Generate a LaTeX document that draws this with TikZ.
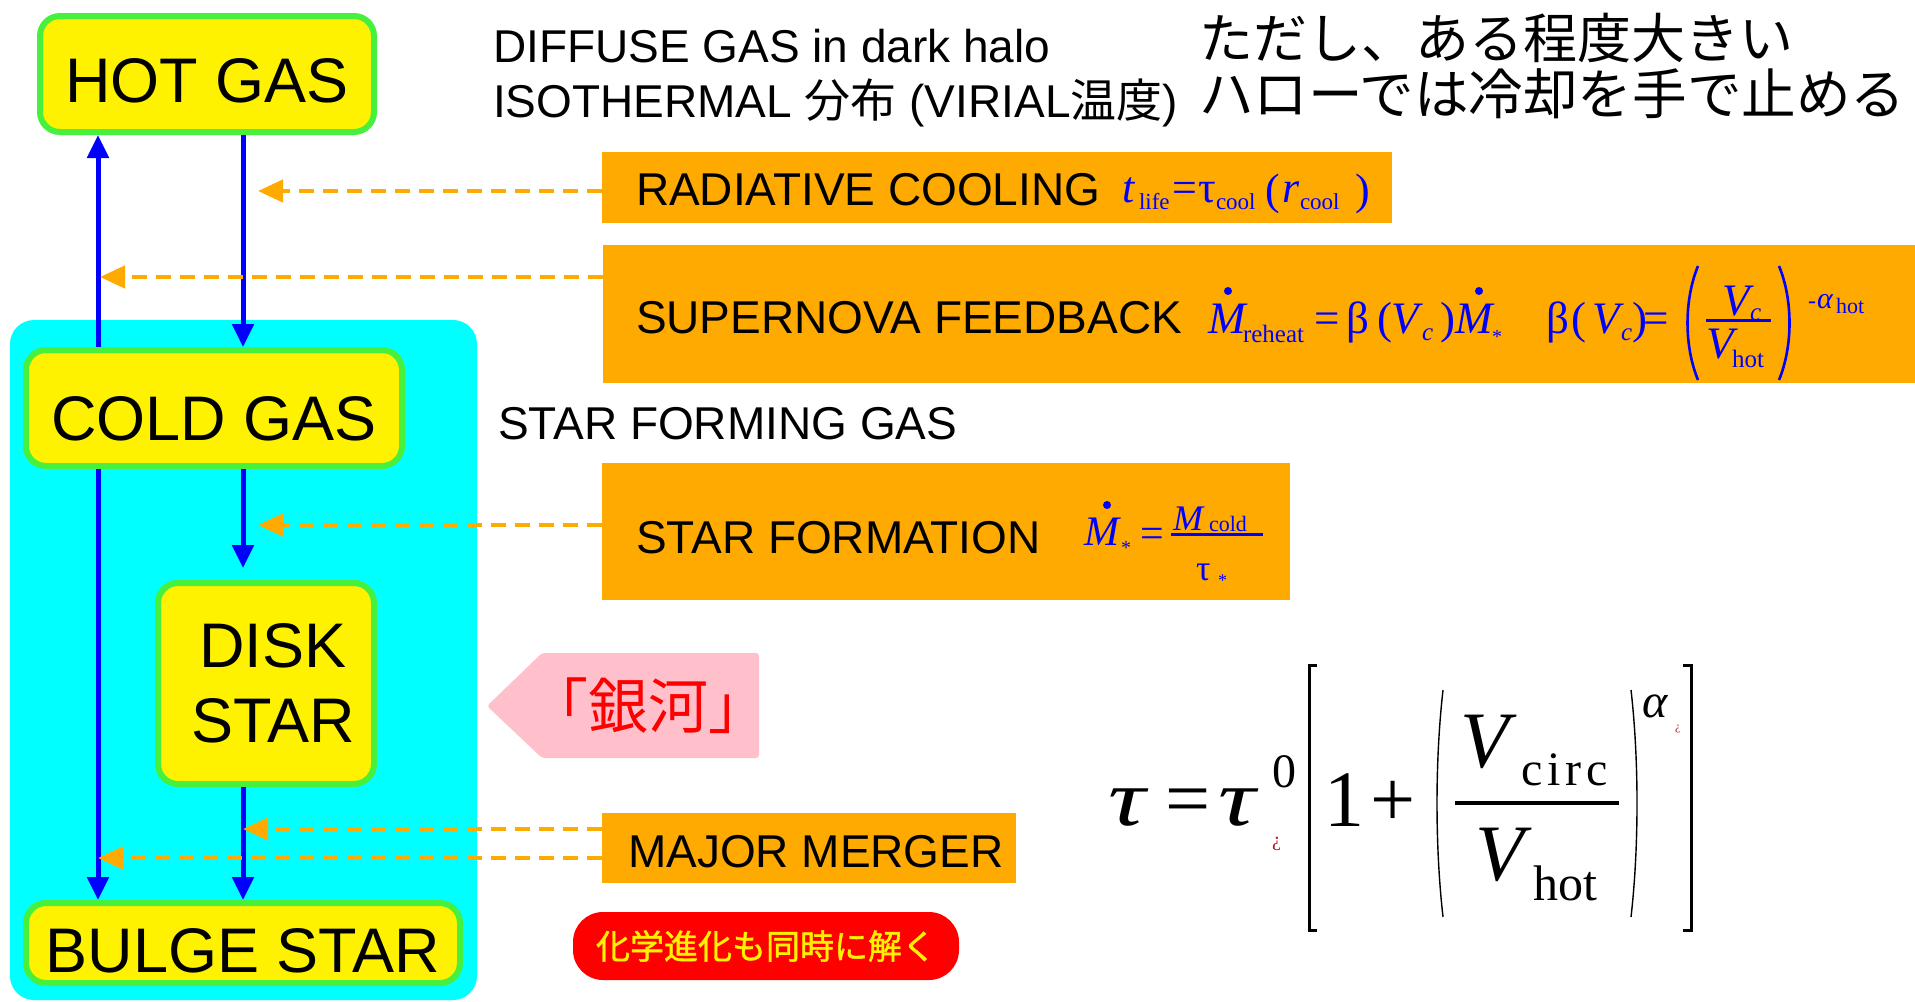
\documentclass[tikz,border=0pt]{standalone}
\usepackage{fontspec}
\usepackage{graphicx}
\setmainfont{Liberation Sans}
\newfontfamily\cjk{Noto Sans CJK JP}
\newfontfamily\cjkb[FakeBold=1.2]{Noto Sans CJK JP}
\newfontfamily\tms{Liberation Serif}
\usetikzlibrary{arrows.meta}
\definecolor{orng}{RGB}{255,170,0}
\definecolor{grn}{RGB}{70,240,60}
\definecolor{cyn}{RGB}{0,255,255}
\definecolor{pnk}{RGB}{255,192,203}
\definecolor{dred}{RGB}{170,30,30}
\newcommand\fsz[1]{\fontsize{#1}{#1}\selectfont}
\newcommand\tf[1]{\tms\fontsize{#1}{#1}\selectfont}
\begin{document}
\begin{tikzpicture}[x=0.5pt,y=-0.5pt,
  every node/.style={inner sep=0pt, outer sep=0pt},
  gbox/.style={draw=grn, line width=3pt, outer sep=1.5pt, fill=yellow, rounded corners=10pt, font=\fsz{31.5}, align=center},
  obox/.style={fill=orng},
  lbl/.style={anchor=base west, font=\fsz{23}},
  fm/.style={anchor=base west, text=blue},
  bk/.style={anchor=base west, text=black},
  barrow/.style={draw=blue, line width=2.5pt, -{Triangle[length=11.5pt,width=10.5pt]}},
  oarrow/.style={draw=orng, line width=2.2pt, dash pattern=on 7.5pt off 4.5pt, -{Triangle[length=12.5pt,width=11pt]}},
]
\fill[white] (0,0) rectangle (1915,1001);
\useasboundingbox (0,0) rectangle (1915,1001);

% galaxy background
\node[fill=cyn, rounded corners=12pt, minimum width=233.5pt, minimum height=340pt] (gal) at (243.5,660) {};

% boxes
\node[gbox, minimum width=167pt, minimum height=58pt, text height=28.1pt, text depth=0pt] (hot) at (207,74) {HOT GAS};
\node[gbox, minimum width=188pt, minimum height=58pt, text height=32.6pt, text depth=0pt] (cold) at (214,408) {COLD GAS};
\node[gbox, minimum width=108pt, minimum height=100.5pt, font=\fontsize{31.5}{37.5}\selectfont] (disk) at (266,683.5) {\hspace*{7pt}DISK\\\hspace*{7pt}STAR};
\node[gbox, minimum width=217pt, minimum height=40pt, text height=29.6pt, text depth=0pt] (bulge) at (243,943) {BULGE STAR};

% orange process boxes
\node[obox, minimum width=395pt, minimum height=35.5pt] (rad) at (997,187.5) {};
\node[obox, minimum width=661pt, minimum height=69pt] (sn) at (1264,314) {};
\node[obox, minimum width=344pt, minimum height=68.5pt] (sf) at (946,531.5) {};
\node[obox, minimum width=207pt, minimum height=35pt] (mm) at (809,848) {};

% lanes
\coordinate (L) at (98,0);
\coordinate (R) at (243,0);

% blue flows
\draw[barrow] (L |- cold.north) -- (L |- hot.south);
\draw[barrow] (R |- hot.south) -- (R |- cold.north);
\draw[barrow] (R |- cold.south) -- ([yshift=6pt]R |- disk.north);
\draw[barrow] (R |- disk.south) -- (R |- bulge.north);
\draw[barrow] (L |- cold.south) -- (L |- bulge.north);

% orange dashed influences
\coordinate (t1) at (258,191);
\coordinate (t2) at (100,277);
\coordinate (t3) at (258,525);
\coordinate (t4) at (243,829);
\coordinate (t5) at (98,858);
\draw[oarrow] (rad.west |- t1) -- (t1);
\draw[oarrow] (sn.west |- t2) -- (t2);
\draw[oarrow] (sf.west |- t3) -- (t3);
\draw[oarrow] (mm.west |- t4) -- (t4);
\draw[oarrow] (mm.west |- t5) -- (t5);

% labels
\node[lbl] (lrad) at (636,205) {RADIATIVE COOLING};
\node[lbl] (lsn) at (636,333) {SUPERNOVA FEEDBACK};
\node[lbl] (lsf) at (636,553) {STAR FORMATION};
\node[lbl] (lmm) at (628,867) {MAJOR MERGER};
\node[lbl] (lsfg) at (498,439) {STAR FORMING GAS};
\node[lbl] (ldif) at (493,62) {DIFFUSE GAS in dark halo};
\node[lbl] (liso) at (493,117) {ISOTHERMAL {\cjk 分布} (VIRIAL{\cjk 温度})};
\node[anchor=base west, font=\cjk\fsz{27}] (jp1) at (1199,58) {ただし、ある程度大きい};
\node[anchor=base west, font=\cjk\fsz{27.3}] (jp2) at (1199,114) {ハローでは冷却を手で止める};

% galaxy tag
\fill[pnk, rounded corners=1.5pt] (487,706) -- (542,653) -- (759,653) -- (759,758) -- (542,758) -- cycle;
\node[text=red, font=\cjk\fsz{30}] (gx) at (648,706) {「銀河」};

% chemical evolution
\node[fill=red, rounded corners=15pt, minimum width=193pt, minimum height=34pt, text=yellow, font=\cjkb\fsz{17}] (chem) at (766,946) {化学進化も同時に解く};

% radiative cooling formula
\node[fm, font=\tf{22}\itshape] (r1) at (1122,202) {t};
\node[fm, font=\tf{11.5}] (r2) at (1139,209) {life};
\node[fm, font=\tf{22}] (r3) at (1172,202) {=};
\node[fm, font=\tf{22}] (r4) at (1198,202) {τ};
\node[fm, font=\tf{11.5}] (r5) at (1216,209) {cool};
\node[fm, font=\tf{22}] (r6) at (1265,204) {(};
\node[fm, font=\tf{22}\itshape] (r7) at (1282,202) {r};
\node[fm, font=\tf{11.5}] (r8) at (1300,209) {cool};
\node[fm, font=\tf{22}] (r9) at (1355,204) {)};

% supernova formula
\node[fm, font=\tf{22.5}\itshape] (s1) at (1208,333) {M};
\fill[blue] (1228,291) circle[radius=2pt];
\node[fm, font=\tf{12.5}] (s2) at (1243,342) {reheat};
\node[fm, font=\tf{22.5}] (s3) at (1314,333) {=};
\node[fm, font=\tf{22.5}] (s4) at (1346,333) {β};
\node[fm, font=\tf{22.5}] (s5) at (1377,333) {(};
\node[fm, font=\tf{22.5}\itshape] (s6) at (1391,333) {V};
\node[fm, font=\tf{12.5}\itshape] (s7) at (1422,340) {c};
\node[fm, font=\tf{22.5}] (s8) at (1440,333) {)};
\node[fm, font=\tf{22.5}\itshape] (s9) at (1455,333) {M};
\fill[blue] (1479,291) circle[radius=2pt];
\node[fm, font=\tf{10}] (s10) at (1492,343) {*};
\node[fm, font=\tf{22.5}] (s11) at (1546,333) {β};
\node[fm, font=\tf{22.5}] (s12) at (1571,333) {(};
\node[fm, font=\tf{22.5}\itshape] (s13) at (1592,333) {V};
\node[fm, font=\tf{12.5}\itshape] (s14) at (1621,340) {c};
\node[fm, font=\tf{22.5}] (s15) at (1632,333) {)};
\node[fm, font=\tf{22.5}] (s16) at (1643,333) {=};
\draw[blue, line width=1.3pt] (1698,266) .. controls (1684,300) and (1684,346) .. (1698,380);
\node[fm, font=\tf{22.5}\itshape] (s17) at (1722,315) {V};
\node[fm, font=\tf{12.5}\itshape] (s18) at (1750,320) {c};
\draw[blue, line width=1.5pt] (1706,320) -- (1771,320);
\node[fm, font=\tf{22.5}\itshape] (s19) at (1706,358) {V};
\node[fm, font=\tf{12.5}] (s20) at (1732,367) {hot};
\draw[blue, line width=1.3pt] (1779,266) .. controls (1793,300) and (1793,346) .. (1779,380);
\node[fm, font=\tf{12}] (s21) at (1808,308) {-};
\node[fm, font=\tf{15}\itshape] (s22) at (1817,308) {α};
\node[fm, font=\tf{11}] (s23) at (1836,313) {hot};

% star formation formula
\node[fm, font=\tf{21}\itshape] (f1) at (1084,545) {M};
\fill[blue] (1107,505) circle[radius=2pt];
\node[fm, font=\tf{10}] (f2) at (1121,554) {*};
\node[fm, font=\tf{21}] (f3) at (1140,547) {=};
\draw[blue, line width=1.5pt] (1171,534) -- (1263,534);
\node[fm, font=\tf{18}\itshape] (f4) at (1173,530) {M};
\node[fm, font=\tf{11}] (f5) at (1209,531) {cold};
\node[fm, font=\tf{18}] (f6) at (1196,580) {τ};
\node[fm, font=\tf{9}] (f7) at (1218,586) {*};

% big formula
\node[bk, font=\tf{40}\itshape] (b1) at (1108,825) {\scalebox{1.3}[1]{τ}};
\node[bk, font=\tf{40}] (b2) at (1165,825) {=};
\node[bk, font=\tf{40}\itshape] (b3) at (1218,825) {\scalebox{1.3}[1]{τ}};
\node[bk, font=\tf{24}] (b4) at (1272,787) {0};
\node[anchor=base west, text=dred, font=\tf{10}] (b5) at (1272,846) {¿};
\draw[line width=1.5pt] (1317,665) -- (1309,665) -- (1309,930) -- (1317,930);
\node[bk, font=\tf{40}] (b6) at (1324,826) {1};
\node[bk, font=\tf{40}] (b7) at (1370,826) {+};
\draw[line width=0.7pt] (1443,690) .. controls (1435,760) and (1435,847) .. (1443,917);
\draw[line width=2.25pt] (1455,803) -- (1619,803);
\node[bk, font=\tf{40}\itshape] (b8) at (1460,767) {V};
\node[bk, font=\tf{24}] (b9) at (1521,785) {c\kern2.5pt i\kern2.5pt r\kern2.5pt c};
\node[bk, font=\tf{40}\itshape] (b10) at (1475,880) {V};
\node[bk, font=\tf{25}] (b11) at (1533,900) {hot};
\draw[line width=0.7pt] (1631,690) .. controls (1639,760) and (1639,847) .. (1631,917);
\node[bk, font=\tf{24}\itshape] (b12) at (1642,717) {α};
\node[anchor=base west, text=dred, font=\tf{6}] (b13) at (1675,730) {¿};
\draw[line width=1.5pt] (1683,665) -- (1691,665) -- (1691,930) -- (1683,930);
\end{tikzpicture}
\end{document}
